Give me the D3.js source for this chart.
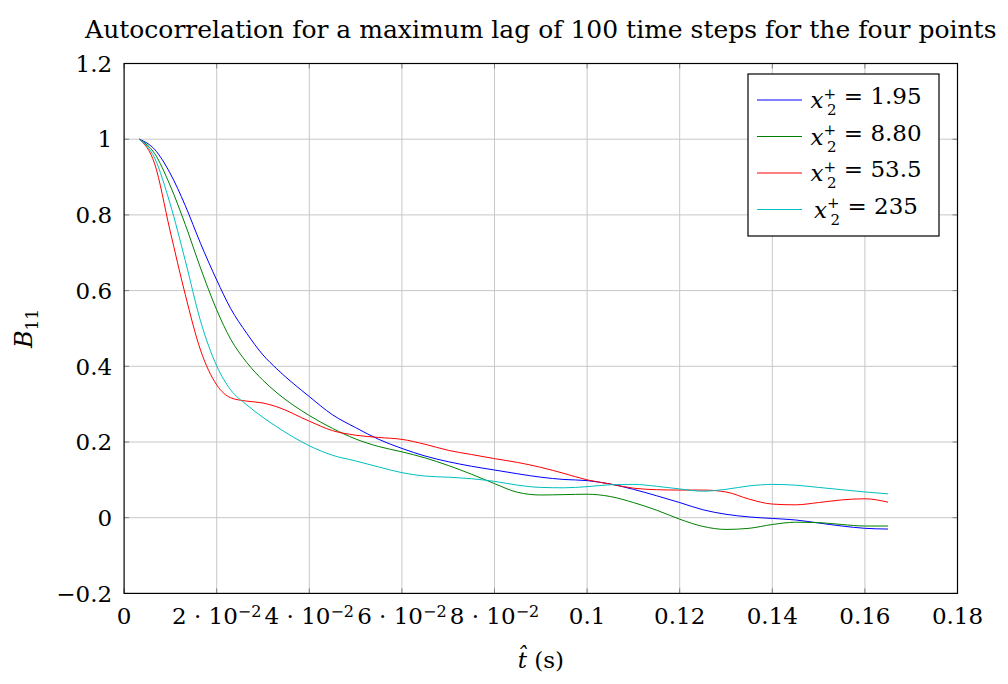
<!DOCTYPE html>
<html>
<head>
  <script src="https://d3js.org/d3.v7.min.js"></script>
  <style>
    body { margin: 0; background: #fff; }
    text { font-family: "DejaVu Serif", serif; fill: #000; }
  </style>
</head>
<body>
  <script>
    const width = 1008;
    const height = 684;

    // lag time (s) shared by every series
    const times = [0.0033, 0.0066, 0.0099, 0.0132, 0.0165, 0.02, 0.023, 0.0265, 0.03, 0.033,
      0.04, 0.045, 0.05, 0.055, 0.06, 0.065, 0.07, 0.075, 0.08, 0.085, 0.09, 0.095, 0.1,
      0.105, 0.11, 0.115, 0.12, 0.125, 0.13, 0.135, 0.14, 0.145, 0.15, 0.155, 0.16, 0.165];

    const b11_195 = [1.0, 0.973, 0.911, 0.825, 0.725, 0.628, 0.553, 0.487, 0.43, 0.393,
      0.32, 0.272, 0.238, 0.207, 0.183, 0.163, 0.148, 0.136, 0.126, 0.116, 0.107, 0.101, 0.098,
      0.089, 0.075, 0.058, 0.040, 0.021, 0.009, 0.002, -0.002, -0.006, -0.014, -0.022, -0.028, -0.03];
    const b11_880 = [1.0, 0.962, 0.879, 0.775, 0.66, 0.549, 0.472, 0.41, 0.363, 0.33,
      0.27, 0.236, 0.208, 0.188, 0.174, 0.158, 0.138, 0.115, 0.09, 0.067, 0.06, 0.061, 0.062,
      0.056, 0.04, 0.02, -0.004, -0.023, -0.031, -0.028, -0.018, -0.012, -0.013, -0.018, -0.022, -0.022];
    const b11_535 = [1.0, 0.935, 0.76, 0.59, 0.443, 0.351, 0.317, 0.308, 0.303, 0.293,
      0.255, 0.23, 0.218, 0.212, 0.207, 0.194, 0.178, 0.167, 0.156, 0.146, 0.133, 0.117, 0.1,
      0.089, 0.078, 0.074, 0.073, 0.073, 0.068, 0.049, 0.036, 0.034, 0.04, 0.047, 0.05, 0.041];
    const b11_235 = [1.0, 0.95, 0.831, 0.68, 0.52, 0.401, 0.338, 0.298, 0.265, 0.24,
      0.19, 0.165, 0.15, 0.134, 0.119, 0.11, 0.107, 0.103, 0.096, 0.086, 0.08, 0.079, 0.082,
      0.087, 0.088, 0.083, 0.076, 0.07, 0.075, 0.084, 0.088, 0.086, 0.08, 0.074, 0.068, 0.063];

    const seriesNames = ["1.95", "8.80", "53.5", "235"];
    const seriesValues = [b11_195, b11_880, b11_535, b11_235];
    const colors = ["#0000ff", "#008000", "#ff0000", "#00bfbf"];

    const xTicks = [0, 0.02, 0.04, 0.06, 0.08, 0.1, 0.12, 0.14, 0.16, 0.18];
    const yTicks = [-0.2, 0, 0.2, 0.4, 0.6, 0.8, 1, 1.2];

    const margin = { top: 63.5, right: 50.5, bottom: 90.6, left: 124.1 };
    const innerW = width - margin.left - margin.right;
    const innerH = height - margin.top - margin.bottom;

    const svg = d3.select("body").append("svg")
      .attr("width", width)
      .attr("height", height);

    const x = d3.scaleLinear().domain([0, 0.18]).range([margin.left, margin.left + innerW]);
    const y = d3.scaleLinear().domain([-0.2, 1.2]).range([margin.top + innerH, margin.top]);

    // grid
    svg.append("g").selectAll("line")
      .data(xTicks.slice(1, -1))
      .join("line")
      .attr("x1", d => x(d)).attr("x2", d => x(d))
      .attr("y1", y(-0.2)).attr("y2", y(1.2))
      .attr("stroke", "#c8c8c8").attr("stroke-width", 1);
    svg.append("g").selectAll("line")
      .data(yTicks.slice(1, -1))
      .join("line")
      .attr("x1", x(0)).attr("x2", x(0.18))
      .attr("y1", d => y(d)).attr("y2", d => y(d))
      .attr("stroke", "#c8c8c8").attr("stroke-width", 1);

    // ticks on all four sides, pointing inwards
    const tickLen = 5;
    const tickG = svg.append("g").attr("stroke", "#808080").attr("stroke-width", 1);
    xTicks.forEach(t => {
      tickG.append("line").attr("x1", x(t)).attr("x2", x(t)).attr("y1", y(-0.2)).attr("y2", y(-0.2) - tickLen);
      tickG.append("line").attr("x1", x(t)).attr("x2", x(t)).attr("y1", y(1.2)).attr("y2", y(1.2) + tickLen);
    });
    yTicks.forEach(t => {
      tickG.append("line").attr("x1", x(0)).attr("x2", x(0) + tickLen).attr("y1", y(t)).attr("y2", y(t));
      tickG.append("line").attr("x1", x(0.18)).attr("x2", x(0.18) - tickLen).attr("y1", y(t)).attr("y2", y(t));
    });

    // curves
    const line = d3.line()
      .x(d => x(d[0]))
      .y(d => y(d[1]))
      .curve(d3.curveMonotoneX);

    seriesValues.forEach((vals, i) => {
      svg.append("path")
        .datum(times.map((t, j) => [t, vals[j]]))
        .attr("d", line)
        .attr("fill", "none")
        .attr("stroke", colors[i])
        .attr("stroke-width", 1);
    });

    // frame
    svg.append("rect")
      .attr("x", x(0)).attr("y", y(1.2))
      .attr("width", innerW).attr("height", innerH)
      .attr("fill", "none").attr("stroke", "#000").attr("stroke-width", 1.2);

    // y tick labels
    svg.append("g").selectAll("text")
      .data(yTicks)
      .join("text")
      .attr("x", x(0) - 12)
      .attr("y", d => y(d))
      .attr("dy", "0.36em")
      .attr("text-anchor", "end")
      .attr("font-size", "23px")
      .text(d => d < 0 ? "\u2212" + Math.abs(d).toFixed(1) : (d === 0 || d === 1 ? d : d.toFixed(1)));

    // x tick labels
    const xLab = svg.append("g").selectAll("text")
      .data(xTicks)
      .join("text")
      .attr("x", d => x(d))
      .attr("y", y(-0.2) + 31)
      .attr("text-anchor", "middle")
      .attr("font-size", "23px");
    xLab.each(function(d) {
      const el = d3.select(this);
      if (d > 0 && d < 0.1) {
        el.append("tspan").text(Math.round(d * 100) + " \u00b7 10");
        el.append("tspan").attr("dy", "-0.45em").attr("font-size", "16px").text("\u22122");
      } else {
        el.text(d === 0 ? "0" : String(+d.toFixed(2)));
      }
    });

    // title
    svg.append("text")
      .attr("x", x(0.09))
      .attr("y", 38)
      .attr("text-anchor", "middle")
      .attr("font-size", "25px")
      .text("Autocorrelation for a maximum lag of 100 time steps for the four points");

    // axis labels
    const xl = svg.append("text")
      .attr("x", x(0.09))
      .attr("y", 668)
      .attr("text-anchor", "middle")
      .attr("font-size", "23px");
    xl.append("tspan").attr("font-style", "italic").text("t\u0302");
    xl.append("tspan").text(" (s)");

    const yl = svg.append("text")
      .attr("transform", `translate(32, ${y(0.5)}) rotate(-90)`)
      .attr("text-anchor", "middle")
      .attr("font-size", "24px");
    yl.append("tspan").attr("font-style", "italic").text("B");
    yl.append("tspan").attr("dy", "0.35em").attr("font-size", "17px").text("11");

    // legend
    const legend = svg.append("g").attr("transform", "translate(748, 74)");
    legend.append("rect")
      .attr("width", 191).attr("height", 162)
      .attr("fill", "#fff").attr("stroke", "#000").attr("stroke-width", 1.2);
    seriesNames.forEach((name, i) => {
      const ly = 26 + i * 36.5;
      legend.append("line")
        .attr("x1", 9).attr("x2", 54)
        .attr("y1", ly).attr("y2", ly)
        .attr("stroke", colors[i]).attr("stroke-width", 1);
      const t = legend.append("text")
        .attr("x", 118)
        .attr("y", ly + 8)
        .attr("text-anchor", "middle")
        .attr("font-size", "23px");
      t.append("tspan").attr("font-style", "italic").text("x");
      t.append("tspan").attr("font-size", "15px").attr("dy", "-0.62em").text("+");
      t.append("tspan").attr("font-size", "15px").attr("dx", "-0.6em").attr("dy", "1.1em").text("2");
      t.append("tspan").attr("dy", "-0.48em").text(" = " + name);
    });
  </script>
</body>
</html>
